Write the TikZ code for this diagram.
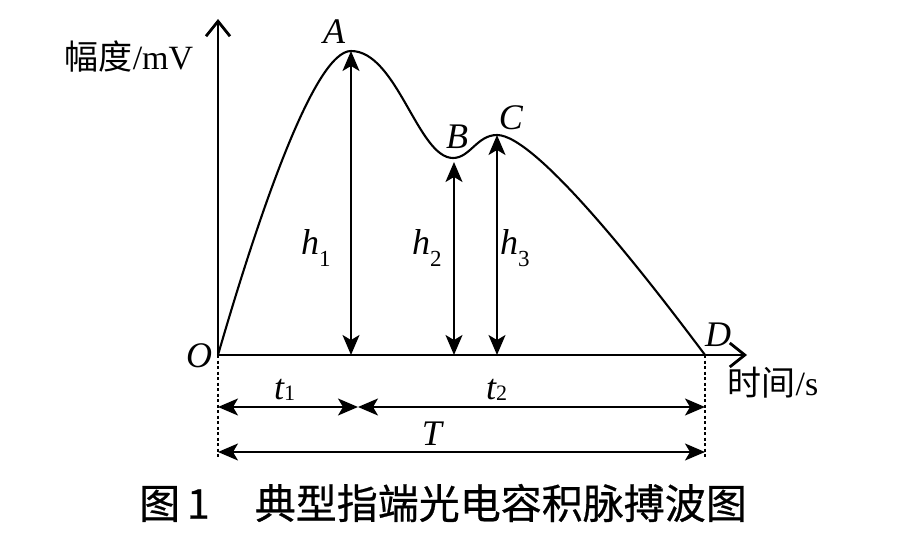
\documentclass[tikz,border=0pt]{standalone}
\usepackage{fontspec}
\setmainfont{Liberation Serif}
\newfontfamily\cjk{Noto Sans CJK SC}
\newfontfamily\cjkcap[FakeBold=0.6]{Noto Sans CJK SC}
\usetikzlibrary{arrows.meta}
\newcommand{\hsub}[1]{\textit{h}\raisebox{-12pt}{\fontsize{23}{23}\selectfont\upshape #1}}
\newcommand{\tsub}[1]{\textit{t}\raisebox{-1pt}{\fontsize{22}{22}\selectfont\upshape #1}}
\begin{document}
\begin{tikzpicture}[x=1pt,y=-1pt,
  axisline/.style={line width=2.8pt,-{Straight Barb[length=15pt,width=24pt,line width=2.8pt]}},
  curveline/.style={line width=2.1pt},
  dimarrow/.style={line width=1.9pt,{Stealth[length=20pt,width=17pt,inset=5pt]}-{Stealth[length=20pt,width=17pt,inset=5pt]}},
  guide/.style={line width=1.6pt,dash pattern=on 3pt off 2.5pt},
  lbl/.style={font=\fontsize{36}{36}\selectfont\itshape, inner sep=0pt},
  cjklbl/.style={font=\fontsize{34}{34}\selectfont, inner sep=0pt},
]
\useasboundingbox (0,0) rectangle (897,543);
% key points
\coordinate (O) at (218,355);
\coordinate (Ytop) at (218,19);
\coordinate (Xend) at (747,355);
\coordinate (A) at (351,51);
\coordinate (B) at (453,158);
\coordinate (C) at (497,135);
\coordinate (D) at (705,355);
\coordinate (Afoot) at (351,355);
\coordinate (Btop) at (454,162);
\coordinate (Bfoot) at (454,355);
\coordinate (Cfoot) at (497,355);
\coordinate (Obot) at (218,458);
\coordinate (Dbot) at (705,458);
\coordinate (TL) at (218,407);
\coordinate (TM) at (358,407);
\coordinate (TR) at (705,407);
\coordinate (BL) at (218,452);
\coordinate (BR) at (705,452);
% axes
\draw[axisline] (O) -- (Ytop);
\draw[axisline] (O) -- (Xend);
% curve
\draw[curveline] (O) .. controls (260,210) and (315,51) .. (A)
  .. controls (397,51) and (418,158) .. (B)
  .. controls (470,158) and (477,135) .. (C)
  .. controls (535,135) and (640,268) .. (D);
% heights
\draw[dimarrow] (Afoot) -- (A);
\draw[dimarrow] (Bfoot) -- (Btop);
\draw[dimarrow] (Cfoot) -- (C);
% guides
\draw[guide] (O) -- (Obot);
\draw[guide] (D) -- (Dbot);
% time spans
\draw[dimarrow] (TL) -- (TM);
\draw[dimarrow] (TM) -- (TR);
\draw[dimarrow] (BL) -- (BR);
% labels
\node[lbl] (lA) at (334,32) {A};
\node[lbl] (lB) at (457,137) {B};
\node[lbl] (lC) at (511,118) {C};
\node[lbl] (lD) at (718,335) {D};
\node[lbl] (lO) at (199,356) {O};
\node[lbl,anchor=base west] (lh1) at (301,254) {\hsub{1}};
\node[lbl,anchor=base west] (lh2) at (412,254) {\hsub{2}};
\node[lbl,anchor=base west] (lh3) at (500,254) {\hsub{3}};
\node[lbl,anchor=base west] (lt1) at (274,399) {\tsub{1}};
\node[lbl,anchor=base west] (lt2) at (486,399) {\tsub{2}};
\node[lbl] (lT) at (432,434) {T};
\node[cjklbl] (ylab) at (129,56) {{\cjk 幅度}/mV};
\node[cjklbl] (xlab) at (773,383) {{\cjk 时间}/s};
\node[inner sep=0pt,font=\fontsize{41}{41}\selectfont\cjkcap] (cap) at (443,503) {图\,1\hspace{1.1em}典型指端光电容积脉搏波图};
\end{tikzpicture}
\end{document}
